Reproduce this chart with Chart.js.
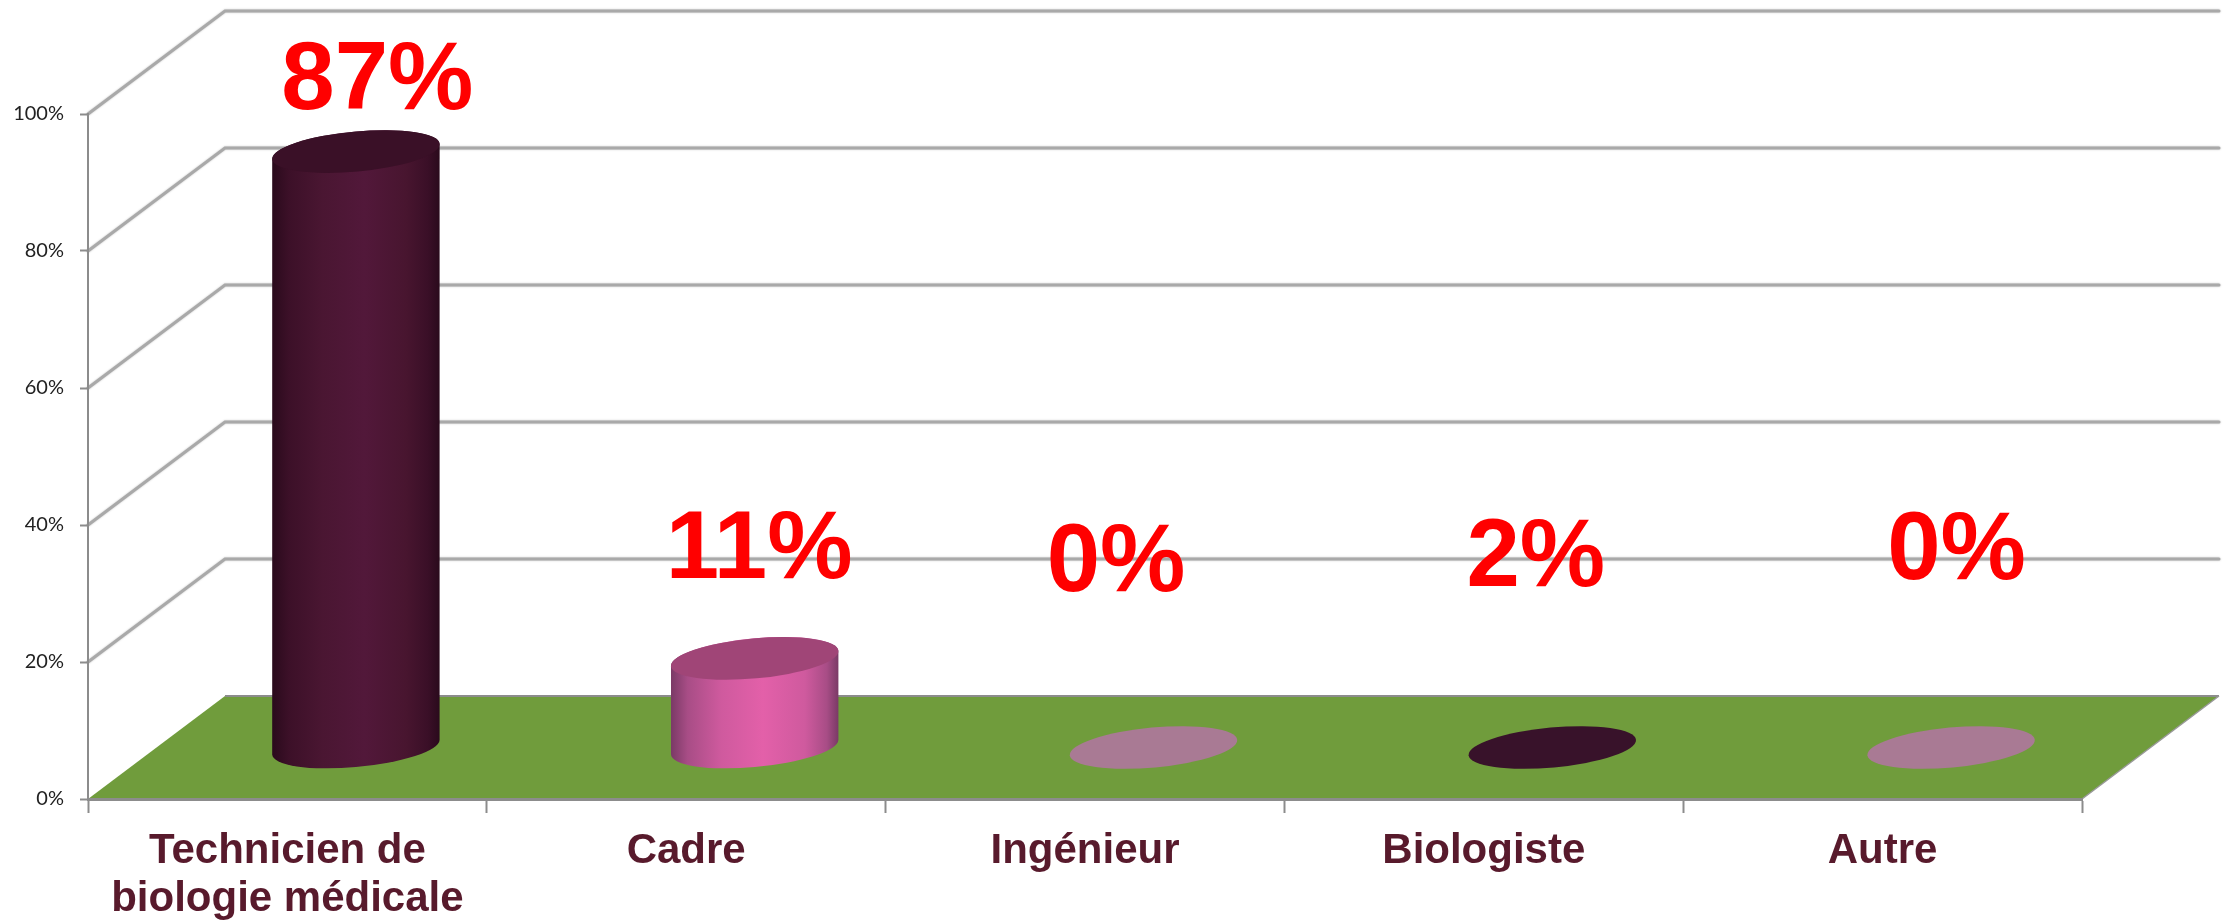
<!DOCTYPE html>
<html>
<head>
<meta charset="utf-8">
<title>Profession</title>
<script src="https://cdn.jsdelivr.net/npm/chart.js@4/dist/chart.umd.js"></script>
<style>
    html, body { margin: 0; padding: 0; background: #fff; }
    canvas { display: block; }
</style>
</head>
<body>
<canvas id="chart3d" width="2228" height="924"></canvas>
<script>
'use strict';

const categories = [['Technicien de', 'biologie médicale'], 'Cadre', 'Ingénieur', 'Biologiste', 'Autre'];
// height of the cylinders as drawn
const barValues = [87, 13, 0, 0, 0];
// the printed labels, they do not always agree with the cylinders
const printedLabels = ['87%', '11%', '0%', '2%', '0%'];
// where the printed labels sit: baseline as a level of the y axis, shift from the category centre
const labelLevels = [100.8, 32.3, 30.3, 31.1, 32.1];
const labelShifts = [90, 73, 31, 52, 74];

const topColors = ['#3a1027', '#a04577', '#a97a94', '#38122a', '#a97a94'];
// side shading, only the two cylinders with a height need it
const sideStops = [0, 0.1, 0.3, 0.55, 0.8, 0.93, 1];
const sideShades = [
    ['#2a0a1c', '#3c1028', '#4a1632', '#52183a', '#48152f', '#3a0f27', '#2a0a1c'],
    ['#7a3a66', '#a84d86', '#cf5a9e', '#e360a9', '#cf5a9e', '#a84d86', '#7a3a66']
];

const DEPTH_X = 137;
const DEPTH_Y = -103;
const GRID_COLOR = '#a9a9a9';
const AXIS_COLOR = '#8c8c8c';
const FLOOR_COLOR = '#709c3c';
const ELLIPSE_B = 20;
const ELLIPSE_TILT = -5.3 * Math.PI / 180;

function strokeLine(ctx, points, color, width) {
    ctx.strokeStyle = color;
    ctx.lineWidth = width;
    ctx.beginPath();
    points.forEach(function (p, i) {
        if (i === 0) ctx.moveTo(p[0], p[1]);
        else ctx.lineTo(p[0], p[1]);
    });
    ctx.stroke();
}

// walls and floor, drawn before the axes
const wallsPlugin = {
    id: 'walls',
    beforeDraw(chart) {
        const ctx = chart.ctx;
        const area = chart.chartArea;
        const y = chart.scales.y;
        ctx.save();
        ctx.lineCap = 'round';
        ctx.shadowColor = 'rgba(0,0,0,0.25)';
        ctx.shadowBlur = 2;
        y.ticks.forEach(function (tick) {
            const py = y.getPixelForValue(tick.value);
            if (tick.value === 0) return;
            strokeLine(ctx, [
                [area.left, py],
                [area.left + DEPTH_X, py + DEPTH_Y],
                [area.right + DEPTH_X, py + DEPTH_Y]
            ], GRID_COLOR, 3);
        });
        ctx.shadowBlur = 0;
        ctx.shadowColor = 'transparent';
        ctx.lineCap = 'butt';
        const base = y.getPixelForValue(0);
        ctx.fillStyle = FLOOR_COLOR;
        ctx.beginPath();
        ctx.moveTo(area.left, base);
        ctx.lineTo(area.right, base);
        ctx.lineTo(area.right + DEPTH_X, base + DEPTH_Y);
        ctx.lineTo(area.left + DEPTH_X, base + DEPTH_Y);
        ctx.closePath();
        ctx.fill();
        strokeLine(ctx, [[area.left + DEPTH_X, base + DEPTH_Y], [area.right + DEPTH_X, base + DEPTH_Y]], AXIS_COLOR, 2);
        strokeLine(ctx, [[area.right, base], [area.right + DEPTH_X, base + DEPTH_Y]], '#999999', 1.5);
        ctx.restore();
    }
};

// the bars keep their place from the scales, only their look is replaced
function drawCylinder(ctx, bar, i) {
    const a = bar.width / 2;
    const b = ELLIPSE_B;
    const cx = bar.x + DEPTH_X / 2;
    const topY = bar.y + DEPTH_Y / 2;
    const baseY = bar.base + DEPTH_Y / 2;
    // angle of the point of the ellipse that is furthest right
    const t = Math.atan2(-b * Math.sin(ELLIPSE_TILT), a * Math.cos(ELLIPSE_TILT));
    const edgeX = a * Math.cos(t) * Math.cos(ELLIPSE_TILT) - b * Math.sin(t) * Math.sin(ELLIPSE_TILT);

    if (baseY - topY > 0.5) {
        const grad = ctx.createLinearGradient(cx - edgeX, 0, cx + edgeX, 0);
        sideStops.forEach(function (stop, s) {
            grad.addColorStop(stop, sideShades[i][s]);
        });
        ctx.fillStyle = grad;
        ctx.beginPath();
        ctx.ellipse(cx, baseY, a, b, ELLIPSE_TILT, t, t + Math.PI);
        // over the far side of the top, so no seam shows under the top ellipse
        ctx.ellipse(cx, topY, a, b, ELLIPSE_TILT, t + Math.PI, t + Math.PI * 2);
        ctx.closePath();
        ctx.fill();
    }
    ctx.fillStyle = topColors[i];
    ctx.beginPath();
    ctx.ellipse(cx, topY, a, b, ELLIPSE_TILT, 0, Math.PI * 2);
    ctx.fill();
}

const cylinderPlugin = {
    id: 'cylinders',
    afterDatasetsDraw(chart) {
        const ctx = chart.ctx;
        ctx.save();
        chart.getDatasetMeta(0).data.forEach(function (bar, i) {
            drawCylinder(ctx, bar, i);
        });
        ctx.restore();
    }
};

const printedLabelPlugin = {
    id: 'printedLabels',
    afterDraw(chart) {
        const ctx = chart.ctx;
        ctx.save();
        ctx.fillStyle = '#ff0000';
        ctx.font = 'bold 96px "Liberation Sans"';
        ctx.textAlign = 'center';
        ctx.textBaseline = 'alphabetic';
        printedLabels.forEach(function (text, i) {
            const px = chart.scales.x.getPixelForValue(i) + labelShifts[i];
            const py = chart.scales.y.getPixelForValue(labelLevels[i]);
            ctx.fillText(text, px, py);
        });
        ctx.restore();
    }
};

new Chart(document.getElementById('chart3d'), {
    type: 'bar',
    data: {
        labels: categories,
        datasets: [{
            data: barValues,
            backgroundColor: 'rgba(0,0,0,0)',
            borderWidth: 0,
            barPercentage: 0.4215,
            categoryPercentage: 1
        }]
    },
    plugins: [wallsPlugin, cylinderPlugin, printedLabelPlugin],
    options: {
        responsive: false,
        animation: false,
        layout: { padding: { top: 114, right: 146, left: 0, bottom: 0 } },
        plugins: { legend: { display: false }, tooltip: { enabled: false } },
        scales: {
            x: {
                afterFit(scale) { scale.height = 125; },
                border: { color: AXIS_COLOR, width: 3 },
                grid: { drawOnChartArea: false, tickLength: 14, tickColor: AXIS_COLOR, tickWidth: 2 },
                ticks: {
                    autoSkip: false,
                    maxRotation: 0,
                    padding: 14,
                    color: '#581a2c',
                    font: { family: '"Liberation Sans"', size: 42, weight: 'bold', lineHeight: 1.143 }
                }
            },
            y: {
                min: 0,
                max: 100,
                afterFit(scale) { scale.width = 88; },
                border: { color: AXIS_COLOR, width: 2 },
                grid: { drawOnChartArea: false, tickLength: 8, tickColor: AXIS_COLOR, tickWidth: 2 },
                ticks: {
                    stepSize: 20,
                    padding: 16,
                    color: '#222222',
                    font: { family: 'Lato', size: 20 },
                    callback: function (v) { return v + '%'; }
                }
            }
        }
    }
});
</script>
</body>
</html>
